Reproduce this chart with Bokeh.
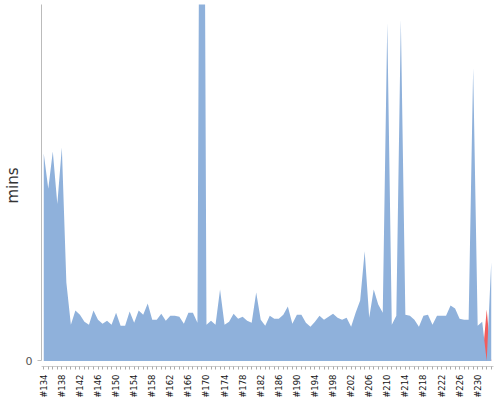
import math
from bokeh.plotting import figure
from bokeh.models import Range1d, FixedTicker, ColumnDataSource
from bokeh.embed import file_html
from bokeh.resources import INLINE

# ---- data -------------------------------------------------------------
first_build = 134
last_build = 233
build_labels = ["#%d" % n for n in range(first_build, last_build + 1)]

# build durations in minutes, #134 .. #233
durations = [
    20.6, 17.1, 20.8, 15.6, 21.2, 7.8, 3.6, 5.0, 4.6, 3.9,
    3.6, 5.0, 4.1, 3.7, 4.0, 3.6, 4.8, 3.5, 3.5, 4.9,
    3.8, 5.0, 4.6, 5.7, 4.1, 4.1, 4.7, 4.0, 4.5, 4.5,
    4.4, 3.7, 4.8, 4.8, 3.8, 108.0, 3.6, 4.0, 3.6, 7.1,
    3.6, 3.9, 4.7, 4.2, 4.4, 4.0, 3.8, 6.8, 4.1, 3.5,
    4.5, 4.2, 4.2, 4.6, 5.4, 3.7, 4.6, 4.6, 3.8, 3.4,
    3.9, 4.5, 4.1, 4.4, 4.7, 4.3, 4.1, 4.3, 3.4, 4.8,
    6.0, 10.9, 4.3, 7.1, 5.6, 4.8, 33.6, 3.6, 4.5, 33.9,
    4.6, 4.5, 4.1, 3.4, 4.5, 4.6, 3.6, 4.5, 4.5, 4.5,
    5.5, 5.2, 4.2, 4.1, 4.1, 29.1, 3.5, 3.9, 5.1, 9.8,
]
failed_builds = ["#232"]
label_every = 4
y_min = -0.55
y_max = 35.4

# ---- build series ------------------------------------------------------
xs = list(range(len(build_labels)))
ok = [d if b not in failed_builds else 0 for b, d in zip(build_labels, durations)]
bad = [d if b in failed_builds else 0 for b, d in zip(build_labels, durations)]
src = ColumnDataSource(dict(x=xs, ok=ok, bad=bad))

p = figure(width=500, height=400, output_backend="svg", toolbar_location=None,
           x_range=Range1d(-0.5, len(xs) - 0.5), y_range=Range1d(y_min, y_max),
           min_border_left=40, min_border_right=7, min_border_top=4,
           min_border_bottom=0, background_fill_color="white",
           border_fill_color="white")
p.outline_line_color = None
p.xgrid.grid_line_color = None
p.ygrid.grid_line_color = None

p.varea(x="x", y1=0, y2="bad", source=src, fill_color="#F25C5C", fill_alpha=1.0)
p.varea(x="x", y1=0, y2="ok", source=src, fill_color="#8FB1DB", fill_alpha=1.0)

# x axis
xa = p.xaxis[0]
xa.ticker = FixedTicker(ticks=xs, minor_ticks=[])
xa.major_label_overrides = {i: (lab if i % label_every == 0 else "")
                            for i, lab in enumerate(build_labels)}
xa.major_label_orientation = math.pi / 2
xa.major_label_text_font = "DejaVu Sans"
xa.major_label_text_font_size = "8.5px"
xa.major_label_text_color = "#111111"
xa.major_label_standoff = 5
xa.axis_line_color = "#cccccc"
xa.major_tick_line_color = "#aaaaaa"
xa.major_tick_out = 3
xa.major_tick_in = 0
xa.minor_tick_line_color = None

# y axis
ya = p.yaxis[0]
ya.ticker = FixedTicker(ticks=[0], minor_ticks=[])
ya.bounds = (0, y_max)
ya.axis_line_color = "#bbbbbb"
ya.major_tick_line_color = "#bbbbbb"
ya.major_tick_out = 4
ya.major_tick_in = 0
ya.minor_tick_line_color = None
ya.major_label_text_font = "DejaVu Sans"
ya.major_label_text_font_size = "11px"
ya.major_label_text_color = "#555555"
ya.major_label_standoff = 5
ya.axis_label = "mins"
ya.axis_label_text_font = "DejaVu Sans"
ya.axis_label_text_font_size = "15px"
ya.axis_label_text_font_style = "normal"
ya.axis_label_text_color = "#333333"
ya.axis_label_standoff = 1

open("out.html", "w").write(file_html(p, INLINE))
